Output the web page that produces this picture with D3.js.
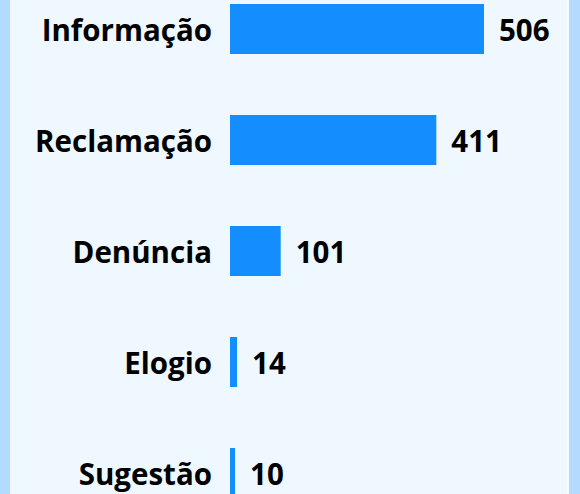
<!DOCTYPE html>
<html lang="pt">
<head>
    <meta charset="UTF-8">
    <title>Manifestações por tipo</title>
    <style>
        body, html {
            margin: 0;
            padding: 0;
            background: #b3dbff;
        }
        #chart {
            width: 580px;
            height: 494px;
        }
        text {
            font-family: "Open Sans", "Noto Sans", sans-serif;
            font-weight: bold;
            font-size: 29.5px;
            fill: #000;
        }
    </style>
    <script src="https://d3js.org/d3.v7.min.js"></script>
</head>
<body>
    <div id="chart"></div>
    <script>
        const categories = ["Informação", "Reclamação", "Denúncia", "Elogio", "Sugestão"];
        const counts = [506, 411, 101, 14, 10];

        const width = 580, height = 494;
        const barLeft = 230, barHeight = 50;

        const svg = d3.select("#chart").append("svg")
            .attr("width", width)
            .attr("height", height);

        // panel
        svg.append("rect")
            .attr("x", 10).attr("y", 0)
            .attr("width", 557).attr("height", height)
            .attr("fill", "#eff7ff");
        svg.append("rect")
            .attr("x", 567).attr("y", 0)
            .attr("width", 2).attr("height", height)
            .attr("fill", "#f7fbff");

        const data = categories.map((c, i) => ({ cat: c, value: counts[i] }));

        const x = d3.scaleLinear()
            .domain([0, 506])
            .range([0, 254]);

        const y = d3.scalePoint()
            .domain(categories)
            .range([29, 473]);

        const g = svg.append("g");

        g.selectAll(".bar")
            .data(data)
            .enter().append("rect")
            .attr("class", "bar")
            .attr("x", barLeft)
            .attr("y", d => y(d.cat) - barHeight / 2)
            .attr("width", d => x(d.value))
            .attr("height", barHeight)
            .attr("fill", "#148dff");

        g.selectAll(".cat")
            .data(data)
            .enter().append("text")
            .attr("class", "cat")
            .attr("x", 212)
            .attr("y", d => y(d.cat))
            .attr("dy", "0.42em")
            .attr("text-anchor", "end")
            .text(d => d.cat);

        g.selectAll(".val")
            .data(data)
            .enter().append("text")
            .attr("class", "val")
            .attr("x", d => barLeft + x(d.value) + 15)
            .attr("y", d => y(d.cat))
            .attr("dy", "0.42em")
            .text(d => d.value);
    </script>
</body>
</html>
